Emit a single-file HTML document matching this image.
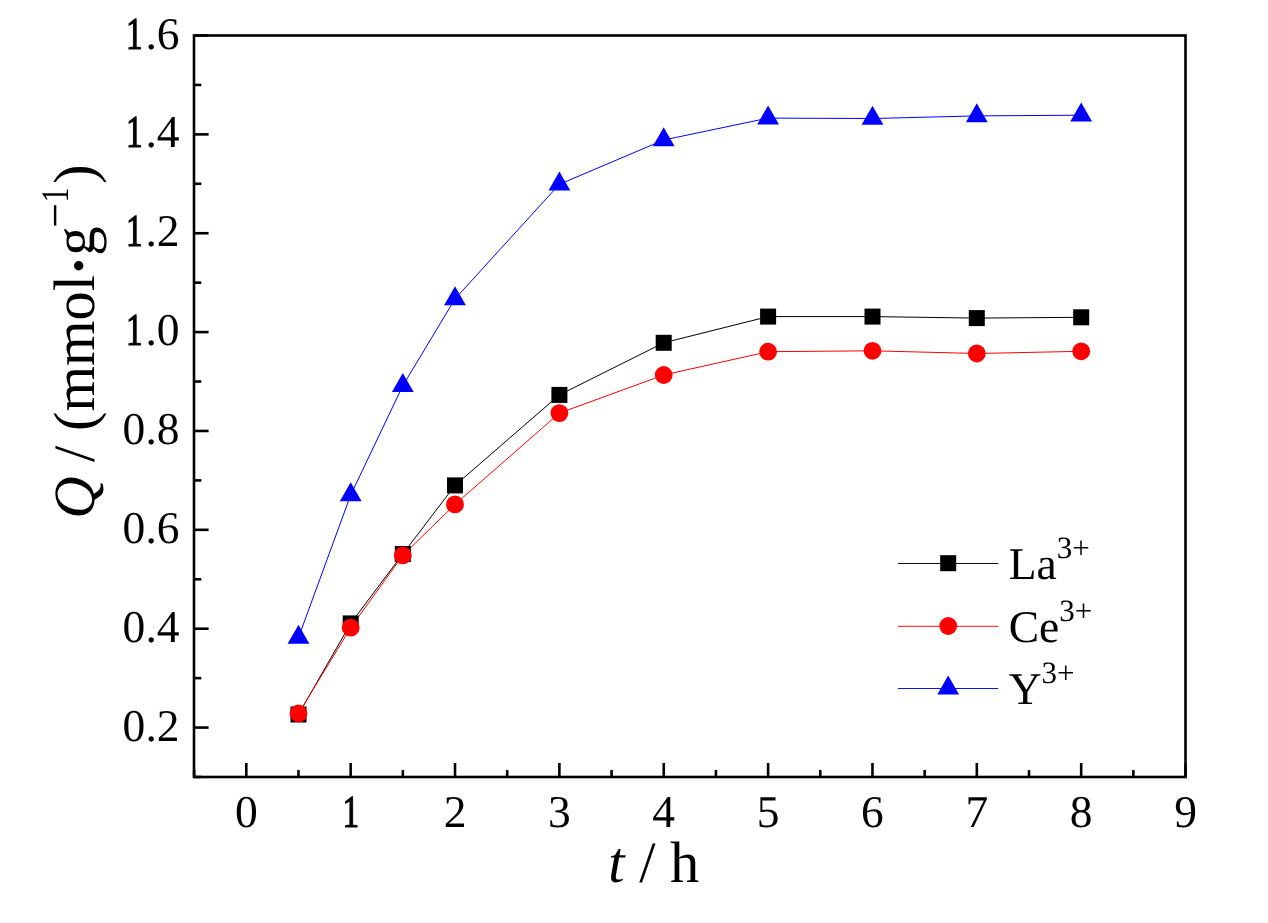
<!DOCTYPE html><html><head><meta charset="utf-8"><style>html,body{margin:0;padding:0;background:#fff;overflow:hidden;}svg{display:block;will-change:transform;}text{font-family:"Liberation Serif",serif;fill:#000;text-rendering:geometricPrecision;}</style></head><body>
<svg width="1268" height="923" viewBox="0 0 1268 923">
<rect width="1268" height="923" fill="#fff"/>
<polyline points="298.5,714.5 350.7,623.4 402.8,554.0 455.0,485.4 559.4,394.9 663.7,342.8 768.1,316.6 872.5,316.6 976.8,318.1 1081.2,317.3" fill="none" stroke="#000" stroke-width="1.00" stroke-linejoin="round"/>
<polyline points="298.5,713.5 350.7,627.6 402.8,555.4 455.0,504.4 559.4,413.1 663.7,375.0 768.1,351.7 872.5,350.8 976.8,353.5 1081.2,351.3" fill="none" stroke="#f00" stroke-width="1.00" stroke-linejoin="round"/>
<polyline points="298.5,637.5 350.7,495.0 402.8,385.7 455.0,298.9 559.4,184.3 663.7,140.0 768.1,118.1 872.5,118.5 976.8,115.9 1081.2,115.2" fill="none" stroke="#00f" stroke-width="1.00" stroke-linejoin="round"/>
<rect x="290.5" y="706.5" width="16.0" height="16.0" fill="#000"/>
<rect x="342.7" y="615.4" width="16.0" height="16.0" fill="#000"/>
<rect x="394.8" y="546.0" width="16.0" height="16.0" fill="#000"/>
<rect x="447.0" y="477.4" width="16.0" height="16.0" fill="#000"/>
<rect x="551.4" y="386.9" width="16.0" height="16.0" fill="#000"/>
<rect x="655.7" y="334.8" width="16.0" height="16.0" fill="#000"/>
<rect x="760.1" y="308.6" width="16.0" height="16.0" fill="#000"/>
<rect x="864.5" y="308.6" width="16.0" height="16.0" fill="#000"/>
<rect x="968.8" y="310.1" width="16.0" height="16.0" fill="#000"/>
<rect x="1073.2" y="309.3" width="16.0" height="16.0" fill="#000"/>
<circle cx="298.5" cy="713.5" r="8.9" fill="#f00"/>
<circle cx="350.7" cy="627.6" r="8.9" fill="#f00"/>
<circle cx="402.8" cy="555.4" r="8.9" fill="#f00"/>
<circle cx="455.0" cy="504.4" r="8.9" fill="#f00"/>
<circle cx="559.4" cy="413.1" r="8.9" fill="#f00"/>
<circle cx="663.7" cy="375.0" r="8.9" fill="#f00"/>
<circle cx="768.1" cy="351.7" r="8.9" fill="#f00"/>
<circle cx="872.5" cy="350.8" r="8.9" fill="#f00"/>
<circle cx="976.8" cy="353.5" r="8.9" fill="#f00"/>
<circle cx="1081.2" cy="351.3" r="8.9" fill="#f00"/>
<polygon points="298.5,624.8 287.6,643.8 309.4,643.8" fill="#00f"/>
<polygon points="350.7,482.3 339.8,501.3 361.6,501.3" fill="#00f"/>
<polygon points="402.8,373.0 391.9,392.0 413.7,392.0" fill="#00f"/>
<polygon points="455.0,286.2 444.1,305.2 465.9,305.2" fill="#00f"/>
<polygon points="559.4,171.6 548.5,190.6 570.3,190.6" fill="#00f"/>
<polygon points="663.7,127.3 652.8,146.3 674.6,146.3" fill="#00f"/>
<polygon points="768.1,105.4 757.2,124.4 779.0,124.4" fill="#00f"/>
<polygon points="872.5,105.8 861.6,124.8 883.4,124.8" fill="#00f"/>
<polygon points="976.8,103.2 965.9,122.2 987.7,122.2" fill="#00f"/>
<polygon points="1081.2,102.5 1070.3,121.5 1092.1,121.5" fill="#00f"/>
<rect x="194" y="35.5" width="991.5" height="741.5" fill="none" stroke="#000" stroke-width="2.6"/>
<line x1="194" y1="777.00" x2="201.3" y2="777.00" stroke="#000" stroke-width="2.6"/>
<line x1="194" y1="727.57" x2="208.6" y2="727.57" stroke="#000" stroke-width="2.6"/>
<line x1="194" y1="678.13" x2="201.3" y2="678.13" stroke="#000" stroke-width="2.6"/>
<line x1="194" y1="628.70" x2="208.6" y2="628.70" stroke="#000" stroke-width="2.6"/>
<line x1="194" y1="579.27" x2="201.3" y2="579.27" stroke="#000" stroke-width="2.6"/>
<line x1="194" y1="529.83" x2="208.6" y2="529.83" stroke="#000" stroke-width="2.6"/>
<line x1="194" y1="480.40" x2="201.3" y2="480.40" stroke="#000" stroke-width="2.6"/>
<line x1="194" y1="430.97" x2="208.6" y2="430.97" stroke="#000" stroke-width="2.6"/>
<line x1="194" y1="381.53" x2="201.3" y2="381.53" stroke="#000" stroke-width="2.6"/>
<line x1="194" y1="332.10" x2="208.6" y2="332.10" stroke="#000" stroke-width="2.6"/>
<line x1="194" y1="282.67" x2="201.3" y2="282.67" stroke="#000" stroke-width="2.6"/>
<line x1="194" y1="233.23" x2="208.6" y2="233.23" stroke="#000" stroke-width="2.6"/>
<line x1="194" y1="183.80" x2="201.3" y2="183.80" stroke="#000" stroke-width="2.6"/>
<line x1="194" y1="134.37" x2="208.6" y2="134.37" stroke="#000" stroke-width="2.6"/>
<line x1="194" y1="84.93" x2="201.3" y2="84.93" stroke="#000" stroke-width="2.6"/>
<line x1="194" y1="35.50" x2="208.6" y2="35.50" stroke="#000" stroke-width="2.6"/>
<line x1="194.12" y1="777" x2="194.12" y2="770.0" stroke="#000" stroke-width="2.6"/>
<line x1="246.30" y1="777" x2="246.30" y2="763.0" stroke="#000" stroke-width="2.6"/>
<line x1="298.48" y1="777" x2="298.48" y2="770.0" stroke="#000" stroke-width="2.6"/>
<line x1="350.66" y1="777" x2="350.66" y2="763.0" stroke="#000" stroke-width="2.6"/>
<line x1="402.84" y1="777" x2="402.84" y2="770.0" stroke="#000" stroke-width="2.6"/>
<line x1="455.02" y1="777" x2="455.02" y2="763.0" stroke="#000" stroke-width="2.6"/>
<line x1="507.20" y1="777" x2="507.20" y2="770.0" stroke="#000" stroke-width="2.6"/>
<line x1="559.38" y1="777" x2="559.38" y2="763.0" stroke="#000" stroke-width="2.6"/>
<line x1="611.56" y1="777" x2="611.56" y2="770.0" stroke="#000" stroke-width="2.6"/>
<line x1="663.74" y1="777" x2="663.74" y2="763.0" stroke="#000" stroke-width="2.6"/>
<line x1="715.92" y1="777" x2="715.92" y2="770.0" stroke="#000" stroke-width="2.6"/>
<line x1="768.10" y1="777" x2="768.10" y2="763.0" stroke="#000" stroke-width="2.6"/>
<line x1="820.28" y1="777" x2="820.28" y2="770.0" stroke="#000" stroke-width="2.6"/>
<line x1="872.46" y1="777" x2="872.46" y2="763.0" stroke="#000" stroke-width="2.6"/>
<line x1="924.64" y1="777" x2="924.64" y2="770.0" stroke="#000" stroke-width="2.6"/>
<line x1="976.82" y1="777" x2="976.82" y2="763.0" stroke="#000" stroke-width="2.6"/>
<line x1="1029.00" y1="777" x2="1029.00" y2="770.0" stroke="#000" stroke-width="2.6"/>
<line x1="1081.18" y1="777" x2="1081.18" y2="763.0" stroke="#000" stroke-width="2.6"/>
<line x1="1133.36" y1="777" x2="1133.36" y2="770.0" stroke="#000" stroke-width="2.6"/>
<line x1="1185.54" y1="777" x2="1185.54" y2="763.0" stroke="#000" stroke-width="2.6"/>
<text x="122.62" y="740.6" font-size="45.5">0</text>
<text x="145.38" y="740.6" font-size="45.5">.</text>
<text x="156.75" y="740.6" font-size="45.5">2</text>
<text x="122.62" y="641.7" font-size="45.5">0</text>
<text x="145.38" y="641.7" font-size="45.5">.</text>
<text x="156.75" y="641.7" font-size="45.5">4</text>
<text x="122.62" y="542.8" font-size="45.5">0</text>
<text x="145.38" y="542.8" font-size="45.5">.</text>
<text x="156.75" y="542.8" font-size="45.5">6</text>
<text x="122.62" y="444.0" font-size="45.5">0</text>
<text x="145.38" y="444.0" font-size="45.5">.</text>
<text x="156.75" y="444.0" font-size="45.5">8</text>
<text transform="translate(134.64,0) scale(0.73,1)" x="-12.01" y="345.1" font-size="45.5" stroke="#000" stroke-width="1.2">1</text>
<text x="145.38" y="345.1" font-size="45.5">.</text>
<text x="156.75" y="345.1" font-size="45.5">0</text>
<text transform="translate(134.64,0) scale(0.73,1)" x="-12.01" y="246.2" font-size="45.5" stroke="#000" stroke-width="1.2">1</text>
<text x="145.38" y="246.2" font-size="45.5">.</text>
<text x="156.75" y="246.2" font-size="45.5">2</text>
<text transform="translate(134.64,0) scale(0.73,1)" x="-12.01" y="147.4" font-size="45.5" stroke="#000" stroke-width="1.2">1</text>
<text x="145.38" y="147.4" font-size="45.5">.</text>
<text x="156.75" y="147.4" font-size="45.5">4</text>
<text transform="translate(134.64,0) scale(0.73,1)" x="-12.01" y="48.5" font-size="45.5" stroke="#000" stroke-width="1.2">1</text>
<text x="145.38" y="48.5" font-size="45.5">.</text>
<text x="156.75" y="48.5" font-size="45.5">6</text>
<text x="234.93" y="826.8" font-size="45.5">0</text>
<text transform="translate(351.30,0) scale(0.73,1)" x="-12.01" y="826.8" font-size="45.5" stroke="#000" stroke-width="1.2">1</text>
<text x="443.64" y="826.8" font-size="45.5">2</text>
<text x="548.00" y="826.8" font-size="45.5">3</text>
<text x="652.37" y="826.8" font-size="45.5">4</text>
<text x="756.72" y="826.8" font-size="45.5">5</text>
<text x="861.09" y="826.8" font-size="45.5">6</text>
<text x="965.44" y="826.8" font-size="45.5">7</text>
<text x="1069.81" y="826.8" font-size="45.5">8</text>
<text x="1174.16" y="826.8" font-size="45.5">9</text>
<text x="608.3" y="882.1" font-size="58.5"><tspan font-style="italic">t</tspan> / h</text>
<g transform="translate(93.5,0) rotate(-90)">
<text x="-518.8" y="0" font-size="58.5"><tspan font-style="italic">Q</tspan> / (mmol</text>
<text x="-255.8" y="0" font-size="58.5">g</text>
<g transform="translate(-199.6,-25.30) scale(0.75,1)"><text x="-3.43" y="0" font-size="39">1</text></g>
<text x="-183.9" y="0" font-size="58.5">)</text>
</g>
<circle cx="78.7" cy="265.8" r="4.7" fill="#000"/>
<rect x="53.9" y="205.2" width="2.4" height="20.4" fill="#000"/>
<line x1="898" y1="563.5" x2="998.3" y2="563.5" stroke="#000" stroke-width="0.95"/>
<rect x="940.2" y="555.2" width="16.0" height="16.0" fill="#000"/>
<text x="1008.7" y="578.7" font-size="45.5">La<tspan font-size="31" dy="-20.5">3+</tspan></text>
<line x1="898" y1="626.3" x2="998.3" y2="626.3" stroke="#f00" stroke-width="0.95"/>
<circle cx="948.2" cy="626.0" r="8.9" fill="#f00"/>
<text x="1008.7" y="641.5" font-size="45.5">Ce<tspan font-size="31" dy="-20.5">3+</tspan></text>
<line x1="898" y1="688.5" x2="998.3" y2="688.5" stroke="#00f" stroke-width="0.95"/>
<polygon points="948.2,675.5 937.3,694.5 959.1,694.5" fill="#00f"/>
<text x="1008.7" y="703.7" font-size="45.5">Y<tspan font-size="31" dy="-20.5">3+</tspan></text>
</svg></body></html>
